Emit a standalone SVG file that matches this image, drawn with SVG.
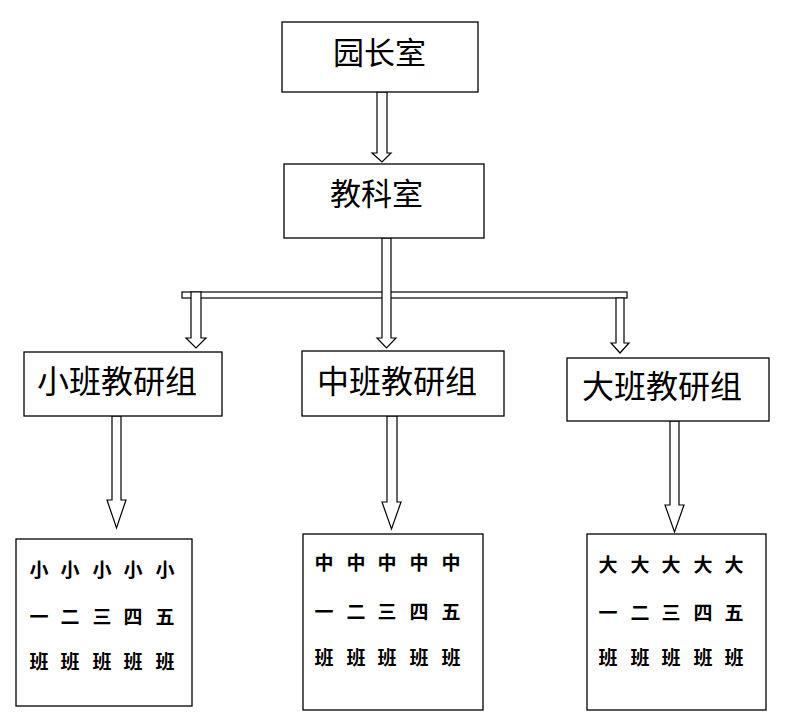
<svg xmlns="http://www.w3.org/2000/svg" width="787" height="727" viewBox="0 0 787 727">
<style>
.box{fill:#fff;stroke:#000;stroke-width:1.3}
.arr{fill:#fff;stroke:#000;stroke-width:1.2;stroke-linejoin:miter}
.t{font-family:"Noto Sans CJK SC","Noto Sans",sans-serif;fill:#000}
.big{font-size:31px}
.mid{font-size:32px}
.g{font-size:19px;font-weight:bold;text-anchor:middle}
</style>
<rect width="787" height="727" fill="#fff"/>
<g id="connectors">
<rect class="arr" x="182" y="292" width="445" height="6"/>
<path class="arr" d="M377,92 H387 V153 H391 L382,162 L372,153 H377 Z"/>
<path class="arr" d="M382,238 H391 V338 H396 L386.5,348 L377,338 H382 Z"/>
<path class="arr" d="M191,292 H201 V338 H206 L196,348 L186,338 H191 Z"/>
<path class="arr" d="M616,298 H624 V343 H629 L620,353 L611,343 H616 Z"/>
<path class="arr" d="M112,416 H121 V500 H126 L116.5,528 L107,500 H112 Z"/>
<path class="arr" d="M387,416 H397 V502 H401 L391.5,529 L382,502 H387 Z"/>
<path class="arr" d="M670,421 H679 V505 H684 L674.5,532 L665,505 H670 Z"/>
</g>
<g id="yuanzhangshi">
<rect class="box" x="282" y="22" width="196" height="70"/>
<text class="t big" x="333" y="64">园长室</text>
</g>
<g id="jiaokeshi">
<rect class="box" x="284" y="164" width="200" height="74"/>
<text class="t big" x="330" y="205">教科室</text>
</g>
<g id="xiaoban">
<rect class="box" x="24" y="352" width="198" height="64"/>
<text class="t mid" x="37" y="393">小班教研组</text>
</g>
<g id="zhongban">
<rect class="box" x="302" y="351" width="202" height="65"/>
<text class="t mid" x="317" y="393">中班教研组</text>
</g>
<g id="daban">
<rect class="box" x="567" y="358" width="202" height="63"/>
<text class="t mid" x="582" y="398">大班教研组</text>
</g>
<g id="xiaoban-classes">
<rect class="box" x="16" y="539" width="176" height="167"/>
<g class="t g">
<text x="39" y="577">小</text><text x="70" y="577">小</text><text x="102" y="577">小</text><text x="133" y="577">小</text><text x="165" y="577">小</text>
<text x="39" y="624">一</text><text x="70" y="624">二</text><text x="102" y="624">三</text><text x="133" y="624">四</text><text x="165" y="624">五</text>
<text x="39" y="669">班</text><text x="70" y="669">班</text><text x="102" y="669">班</text><text x="133" y="669">班</text><text x="165" y="669">班</text>
</g>
</g>
<g id="zhongban-classes">
<rect class="box" x="303" y="534" width="180" height="176"/>
<g class="t g">
<text x="324" y="570">中</text><text x="356" y="570">中</text><text x="387" y="570">中</text><text x="419" y="570">中</text><text x="451" y="570">中</text>
<text x="324" y="619">一</text><text x="356" y="619">二</text><text x="387" y="619">三</text><text x="419" y="619">四</text><text x="451" y="619">五</text>
<text x="324" y="665">班</text><text x="356" y="665">班</text><text x="387" y="665">班</text><text x="419" y="665">班</text><text x="451" y="665">班</text>
</g>
</g>
<g id="daban-classes">
<rect class="box" x="587" y="534" width="179" height="176"/>
<g class="t g">
<text x="608" y="572">大</text><text x="640" y="572">大</text><text x="671" y="572">大</text><text x="703" y="572">大</text><text x="734" y="572">大</text>
<text x="608" y="620">一</text><text x="640" y="620">二</text><text x="671" y="620">三</text><text x="703" y="620">四</text><text x="734" y="620">五</text>
<text x="608" y="665">班</text><text x="640" y="665">班</text><text x="671" y="665">班</text><text x="703" y="665">班</text><text x="734" y="665">班</text>
</g>
</g>
</svg>
